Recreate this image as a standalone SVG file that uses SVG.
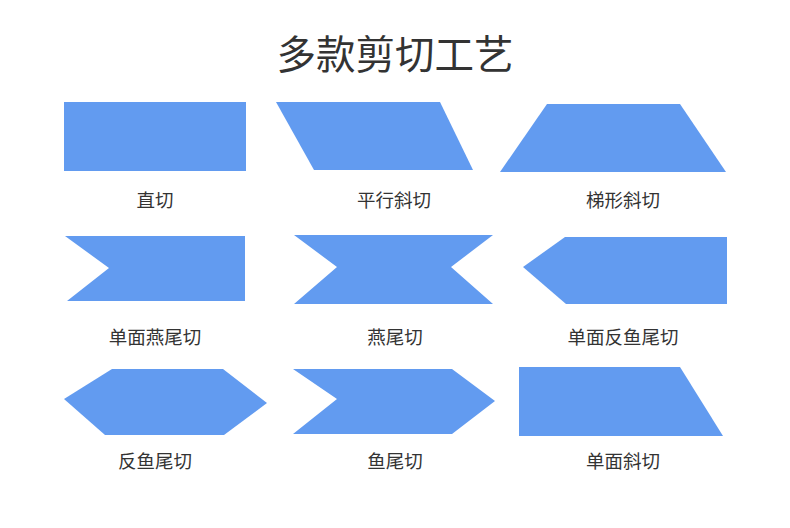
<svg xmlns="http://www.w3.org/2000/svg" width="790" height="528" viewBox="0 0 790 528">
<style>
.s{fill:#629BF0;}
.t{font-family:"Noto Sans CJK SC","Noto Sans",sans-serif;fill:#333333;text-anchor:middle;}
.lbl{font-size:18.5px;}
.ttl{font-size:39.5px;}
</style>
<rect width="790" height="528" fill="#ffffff"/>
<text class="t ttl" x="395" y="69">多款剪切工艺</text>
<g id="straight"><polygon class="s" points="64,102 246,102 246,171 64,171"/><text class="t lbl" x="155" y="207">直切</text></g>
<g id="parallel"><polygon class="s" points="276,102 440,102 473,170 314,170"/><text class="t lbl" x="394" y="207">平行斜切</text></g>
<g id="trapezoid"><polygon class="s" points="547,104 680,104 726,172 500,172"/><text class="t lbl" x="623" y="207">梯形斜切</text></g>
<g id="single-swallow"><polygon class="s" points="65,236 245,236 245,301 67,301 109,268"/><text class="t lbl" x="155" y="344">单面燕尾切</text></g>
<g id="swallow"><polygon class="s" points="294,235 493,235 451,267 493,304 294,304 337,267"/><text class="t lbl" x="395" y="344">燕尾切</text></g>
<g id="single-reverse-fish"><polygon class="s" points="565,237 727,237 727,304 566,304 523,267"/><text class="t lbl" x="623" y="344">单面反鱼尾切</text></g>
<g id="reverse-fish"><polygon class="s" points="112,369 223,369 267,403 224,435 105,435 64,399"/><text class="t lbl" x="155" y="468">反鱼尾切</text></g>
<g id="fish"><polygon class="s" points="293,369 452,369 495,401 452,434 293,434 337,399"/><text class="t lbl" x="395" y="468">鱼尾切</text></g>
<g id="single-bevel"><polygon class="s" points="519,367 680,367 723,436 519,436"/><text class="t lbl" x="623" y="468">单面斜切</text></g>
<g id="connectors"></g>
</svg>
